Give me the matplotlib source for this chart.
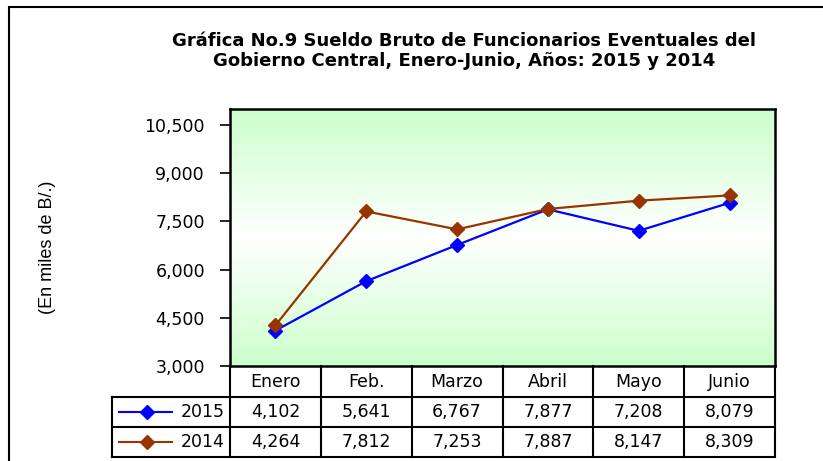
import matplotlib.pyplot as plt
import matplotlib.transforms as mtransforms
import numpy as np
from matplotlib.lines import Line2D
from matplotlib.patches import Rectangle
from matplotlib.ticker import FuncFormatter

months = ["Enero", "Feb.", "Marzo", "Abril", "Mayo", "Junio"]
series_names = ["2015", "2014"]
values_2015 = [4102, 5641, 6767, 7877, 7208, 8079]
values_2014 = [4264, 7812, 7253, 7887, 8147, 8309]
series_colors = ["#0000ff", "#993300"]
y_ticks = [3000, 4500, 6000, 7500, 9000, 10500]

title = ("Gráfica No.9 Sueldo Bruto de Funcionarios Eventuales del\n"
         "Gobierno Central, Enero-Junio, Años: 2015 y 2014")
y_label = "(En miles de B/.)"

W, H = 823, 461
fig = plt.figure(figsize=(W / 100, H / 100), dpi=100)

# outer chart frame (cut by the image on the right and bottom)
fig.patches.append(Rectangle((9 / W, -0.1), 1.2, 1.1 - 7 / H, transform=fig.transFigure,
                             fill=False, edgecolor="black", linewidth=1.5))

ax = fig.add_axes([230 / W, 95 / H, 545 / W, 257 / H])

# background gradient: green at top and bottom, white in the middle
t = np.abs(np.linspace(-1, 1, 256))[:, None]
green = np.array([0.80, 1.0, 0.80])
grad = (1 - t)[..., None] * np.ones(3) + t[..., None] * green
ax.imshow(grad, extent=(0, 1, 0, 1), transform=ax.transAxes, aspect="auto",
          zorder=0, interpolation="bilinear")

x = np.arange(len(months))
for vals, color in zip([values_2015, values_2014], series_colors):
    ax.plot(x, vals, color=color, linewidth=1.6, marker="D", markersize=7.5,
            markerfacecolor=color, markeredgecolor=color, zorder=3)

ax.set_xlim(-0.5, len(months) - 0.5)
ax.set_ylim(3000, 11000)
ax.set_yticks(y_ticks)
ax.yaxis.set_major_formatter(FuncFormatter(lambda v, p: f"{v:,.0f}"))
ax.set_xticks([])
ax.tick_params(axis="y", direction="out", length=7, width=1.2, pad=11,
               labelsize=12.5, labelfontfamily="DejaVu Sans")
for sp in ax.spines.values():
    sp.set_linewidth(1.8)
    sp.set_color("black")

fig.text(48 / W, 1 - 247 / H, y_label, rotation=90, ha="center", va="center",
         fontsize=13, family="Liberation Sans")
fig.text(464 / W, 1 - 51 / H, title, ha="center", va="center", fontsize=13,
         fontweight="bold", family="DejaVu Sans", linespacing=1.12)

# data table under the plot
trans = mtransforms.blended_transform_factory(ax.transData, ax.transAxes)
ph = 257
rows_y = [0, -31 / ph, -61 / ph, -91 / ph]
label_left = -0.5 - 118 / (545 / 6)
n = len(months)
line_kw = dict(color="black", linewidth=1.5, transform=trans, clip_on=False)

for i in range(n + 1):
    ax.add_line(Line2D([i - 0.5, i - 0.5], [rows_y[0], rows_y[3]], **line_kw))
ax.add_line(Line2D([label_left, label_left], [rows_y[1], rows_y[3]], **line_kw))
for yy in rows_y[1:]:
    ax.add_line(Line2D([label_left, n - 0.5], [yy, yy], **line_kw))

txt_kw = dict(transform=trans, ha="center", va="center", fontsize=12.5,
              family="DejaVu Sans", clip_on=False)
for i, m in enumerate(months):
    ax.text(i, (rows_y[0] + rows_y[1]) / 2, m, **txt_kw)

for r, (name, vals, color) in enumerate(zip(series_names, [values_2015, values_2014], series_colors)):
    yc = (rows_y[r + 1] + rows_y[r + 2]) / 2
    for i, v in enumerate(vals):
        ax.text(i, yc, f"{v:,}", **txt_kw)
    ax.add_line(Line2D([label_left + 0.08, label_left + 0.66], [yc, yc], color=color,
                       linewidth=1.5, transform=trans, clip_on=False))
    ax.add_line(Line2D([label_left + 0.385], [yc], color=color, marker="D", markersize=7,
                       transform=trans, clip_on=False))
    ax.text(-0.56, yc, name, transform=trans, ha="right", va="center", fontsize=12.5,
            family="DejaVu Sans", clip_on=False)

fig.savefig("out.png", dpi=100)
